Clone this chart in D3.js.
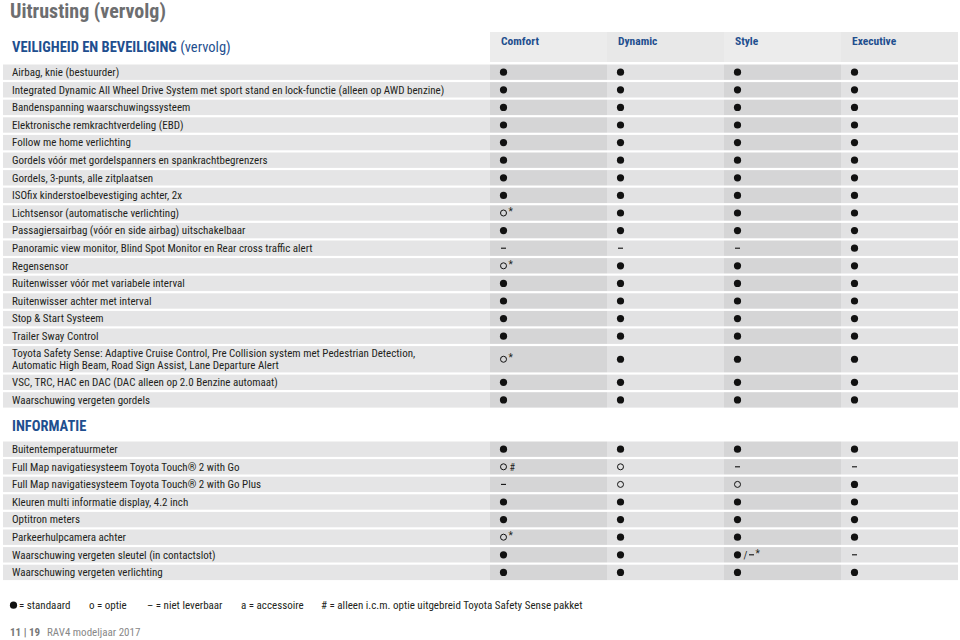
<!DOCTYPE html>
<html><head><meta charset="utf-8">
<script src="https://cdn.jsdelivr.net/npm/d3@7"></script>
<style>
body{margin:0;background:#fff;}
svg text{font-family:"Liberation Sans Narrow","Roboto Condensed","Liberation Sans",sans-serif;}
</style></head>
<body><svg id="c" width="960" height="640"></svg>
<script>
const columns = ["Comfort","Dynamic","Style","Executive"];
const safetyLabels = [
 "Airbag, knie (bestuurder)",
 "Integrated Dynamic All Wheel Drive System met sport stand en lock-functie (alleen op AWD benzine)",
 "Bandenspanning waarschuwingssysteem",
 "Elektronische remkrachtverdeling (EBD)",
 "Follow me home verlichting",
 "Gordels vóór met gordelspanners en spankrachtbegrenzers",
 "Gordels, 3-punts, alle zitplaatsen",
 "ISOfix kinderstoelbevestiging achter, 2x",
 "Lichtsensor (automatische verlichting)",
 "Passagiersairbag (vóór en side airbag) uitschakelbaar",
 "Panoramic view monitor, Blind Spot Monitor en Rear cross traffic alert",
 "Regensensor",
 "Ruitenwisser vóór met variabele interval",
 "Ruitenwisser achter met interval",
 "Stop & Start Systeem",
 "Trailer Sway Control",
 "Toyota Safety Sense: Adaptive Cruise Control, Pre Collision system met Pedestrian Detection,\nAutomatic High Beam, Road Sign Assist, Lane Departure Alert",
 "VSC, TRC, HAC en DAC (DAC alleen op 2.0 Benzine automaat)",
 "Waarschuwing vergeten gordels"
];
const safetyValues = [
 ["S","S","S","S"],["S","S","S","S"],["S","S","S","S"],["S","S","S","S"],
 ["S","S","S","S"],["S","S","S","S"],["S","S","S","S"],["S","S","S","S"],
 ["O*","S","S","S"],["S","S","S","S"],["-","-","-","S"],["O*","S","S","S"],
 ["S","S","S","S"],["S","S","S","S"],["S","S","S","S"],["S","S","S","S"],
 ["O*","S","S","S"],["S","S","S","S"],["S","S","S","S"]
];
const infoLabels = [
 "Buitentemperatuurmeter",
 "Full Map navigatiesysteem Toyota Touch® 2 with Go",
 "Full Map navigatiesysteem Toyota Touch® 2 with Go Plus",
 "Kleuren multi informatie display, 4.2 inch",
 "Optitron meters",
 "Parkeerhulpcamera achter",
 "Waarschuwing vergeten sleutel (in contactslot)",
 "Waarschuwing vergeten verlichting"
];
const infoValues = [
 ["S","S","S","S"],["O#","O","-","-"],["-","O","O","S"],["S","S","S","S"],
 ["S","S","S","S"],["O*","S","S","S"],["S","S","S/-*","-"],["S","S","S","S"]
];
const legendItems = [
 {sym:"S", text:"= standaard"},
 {sym:"o", text:"= optie"},
 {sym:"–", text:"= niet leverbaar"},
 {sym:"a", text:"= accessoire"},
 {sym:"#", text:"= alleen i.c.m. optie uitgebreid Toyota Safety Sense pakket"}
];
const titleText = "Uitrusting (vervolg)";
const section1 = ["VEILIGHEID EN BEVEILIGING", " (vervolg)"];
const section2 = "INFORMATIE";
const footerPage = "11 | 19";
const footerText = "RAV4 modeljaar 2017";

const svg = d3.select("#c");
const BLUE = "#1f4f8f", TXT = "#231f20";

// column scale
const x = d3.scaleBand().domain(columns).range([490, 958]).paddingInner(0);
const labelX0 = 3;

// title
svg.append("text").attr("x",10).attr("y",18).attr("font-size",20).attr("font-weight","bold")
  .attr("fill","#6d6e70").text(titleText);

// section 1 heading
const h1 = svg.append("text").attr("x",12).attr("y",52).attr("font-size",14.5).attr("fill",BLUE);
h1.append("tspan").attr("font-weight","bold").text(section1[0]);
h1.append("tspan").text(section1[1]);

// header
const hdr = svg.append("g");
hdr.selectAll("rect").data(columns).join("rect")
  .attr("x",d=>x(d)).attr("y",32).attr("width",x.bandwidth()).attr("height",30)
  .attr("fill",(d,i)=>i%2===0?"#ececec":"#e8e8e8");
hdr.selectAll("text").data(columns).join("text")
  .attr("x",d=>x(d)+11).attr("y",45).attr("font-size",11.5).attr("font-weight","bold")
  .attr("fill",BLUE).text(d=>d);

function drawTable(labels, values, top) {
  const units = labels.map(l => l.includes("\n") ? 1.62 : 1);
  const cum = [0]; units.forEach(u => cum.push(cum[cum.length-1]+u));
  const pitch = 17.6;
  const y = d3.scaleLinear().domain([0, cum[cum.length-1]]).range([top, top + cum[cum.length-1]*pitch]);
  const rows = svg.append("g").selectAll("g").data(labels).join("g");
  rows.append("rect").attr("x",labelX0).attr("y",(d,i)=>y(cum[i]))
    .attr("width",x(columns[0])-labelX0).attr("height",(d,i)=>y(cum[i+1])-y(cum[i])-2.2)
    .attr("fill","#e5e5e6");
  rows.each(function(lab,i){
    const g = d3.select(this);
    const y0 = y(cum[i]), h = y(cum[i+1])-y(cum[i])-2.2, cy = y0 + h/2;
    g.selectAll("rect.c").data(columns).join("rect").attr("class","c")
      .attr("x",c=>x(c)).attr("y",y0).attr("width",x.bandwidth()).attr("height",h)
      .attr("fill",(c,j)=>j%2===0?"#d5d5d6":"#e2e2e3");
    const lines = lab.split("\n");
    const t = g.append("text").attr("font-size",11).attr("fill",TXT);
    lines.forEach((ln,k)=>{
      t.append("tspan").attr("x",12).attr("y", cy + 3.8 + (k - (lines.length-1)/2)*12).text(ln);
    });
    values[i].forEach((v,j)=>{
      const cx = x(columns[j]) + 13.5;
      drawSymbol(g, v, cx, cy);
    });
  });
  return y(cum[cum.length-1]);
}

function drawSymbol(g, v, cx, cy) {
  let px = cx;
  const parts = v.split("/");
  parts.forEach((p,pi)=>{
    if (pi>0) { g.append("text").attr("x",px-1).attr("y",cy+3.8).attr("font-size",10.5).attr("fill",TXT).text("/"); px += 7; }
    const base = p[0], suf = p.slice(1);
    if (base==="S") { g.append("circle").attr("cx",px).attr("cy",cy).attr("r",3.6).attr("fill","#111"); px += 7; }
    else if (base==="O") { g.append("circle").attr("cx",px).attr("cy",cy).attr("r",3).attr("fill","none").attr("stroke","#111").attr("stroke-width",1); px += 6; }
    else if (base==="-") { g.append("line").attr("x1",px-2.5).attr("x2",px+2.5).attr("y1",cy).attr("y2",cy).attr("stroke","#111").attr("stroke-width",1.1); px += 5; }
    if (suf==="*") g.append("text").attr("x",px-1).attr("y",cy+2).attr("font-size",10).attr("fill",TXT).text("*");
    if (suf==="#") g.append("text").attr("x",px).attr("y",cy+3.8).attr("font-size",10).attr("fill",TXT).text("#");
  });
}

drawTable(safetyLabels, safetyValues, 64.5);

svg.append("text").attr("x",12).attr("y",431).attr("font-size",14.5).attr("font-weight","bold")
  .attr("fill",BLUE).text(section2);

drawTable(infoLabels, infoValues, 441.5);

// legend
const legX = [10, 89, 147, 241, 321];
const leg = svg.append("g");
legendItems.forEach((d,i)=>{
  const g = leg.append("g").attr("transform",`translate(${legX[i]},609)`);
  if (d.sym==="S") {
    g.append("circle").attr("cx",3.5).attr("cy",-3.8).attr("r",3.6).attr("fill","#111");
    g.append("text").attr("x",9).attr("y",0).attr("font-size",11).attr("fill",TXT).text(d.text);
  } else {
    g.append("text").attr("x",0).attr("y",0).attr("font-size",11).attr("fill",TXT).text(d.sym + " " + d.text);
  }
});

// footer
svg.append("text").attr("x",10).attr("y",636).attr("font-size",11).attr("font-weight","bold").attr("fill","#777").text(footerPage);
svg.append("text").attr("x",47).attr("y",636).attr("font-size",11).attr("fill","#888").text(footerText);
</script></body></html>
